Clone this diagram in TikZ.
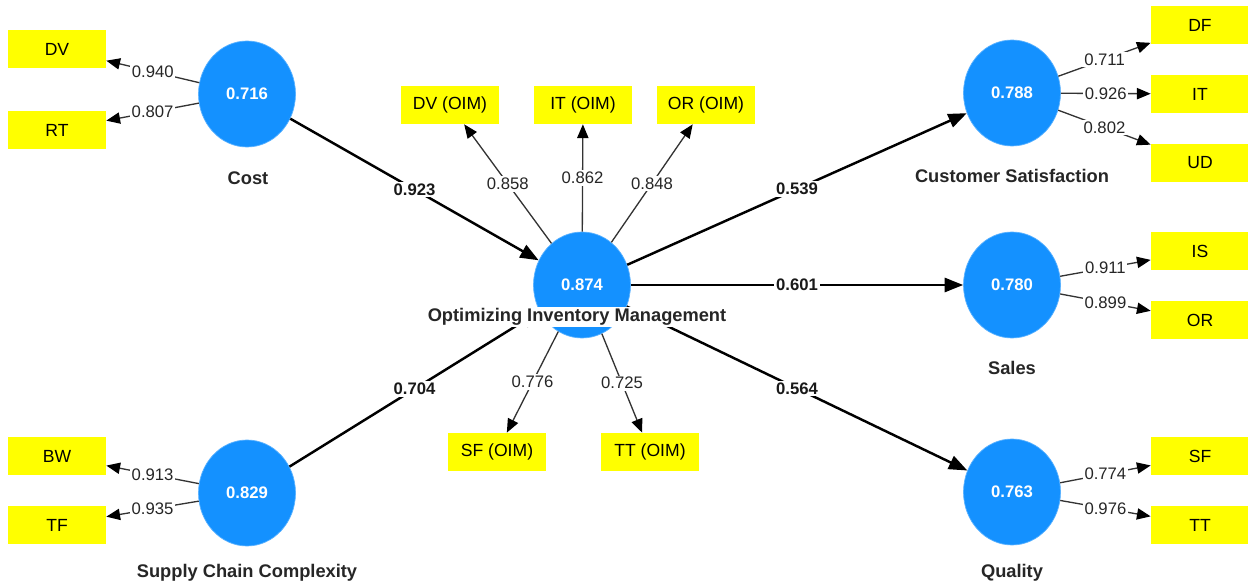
\documentclass[tikz,border=0pt]{standalone}
\usepackage{fontspec}
\setmainfont{Liberation Sans}
\usetikzlibrary{shapes.geometric,arrows.meta}
\definecolor{lvblue}{RGB}{20,145,255}
\definecolor{mvyellow}{RGB}{255,255,0}
\tikzset{
  lv/.style={ellipse, fill=lvblue, draw=lvblue!70!white, line width=0.4pt, minimum width=1.94cm, minimum height=2.12cm, inner sep=0pt, text=white, font=\fontsize{9.5}{11}\selectfont\bfseries},
  mv/.style={rectangle, fill=mvyellow, minimum width=1.96cm, minimum height=0.76cm, inner sep=0pt, font=\fontsize{10}{12}\selectfont},
  lvname/.style={font=\fontsize{10.4}{12}\selectfont\bfseries, text=black!85, inner sep=1pt},
  ld/.style={draw=black!80, line width=0.75pt, -{Triangle[length=7.8pt,width=6.4pt,color=black]}},
  sp/.style={draw=black, line width=1.4pt, -{Triangle[length=10.5pt,width=8pt]}},
  ldlab/.style={fill=white, inner sep=1pt, text=black!85, font=\fontsize{9.5}{11}\selectfont},
  splab/.style={fill=white, inner sep=1pt, text=black!90, font=\fontsize{9.5}{11}\selectfont\bfseries}
}
\begin{document}
\begin{tikzpicture}[x=0.02cm, y=-0.02cm]
\useasboundingbox (0,0) rectangle (1248,587);
\fill[white] (0,0) rectangle (1248,587);
% latent variables
\node[lv] (cost) at (247,94) {0.716};
\node[lv] (oim) at (582,285) {0.874};
\node[lv] (scc) at (247,493) {0.829};
\node[lv] (cs) at (1012,93) {0.788};
\node[lv] (sales) at (1012,285) {0.780};
\node[lv] (qual) at (1012,492) {0.763};
% indicators
\node[mv] (dv) at (57,49) {DV};
\node[mv] (rt) at (57,130) {RT};
\node[mv] (bw) at (57,456) {BW};
\node[mv] (tf) at (57,525) {TF};
\node[mv] (dvo) at (450,105) {DV (OIM)};
\node[mv] (ito) at (583,105) {IT (OIM)};
\node[mv] (oro) at (706,105) {OR (OIM)};
\node[mv] (sfo) at (497,452) {SF (OIM)};
\node[mv] (tto) at (650,452) {TT (OIM)};
\node[mv] (df) at (1200,25) {DF};
\node[mv] (it) at (1200,94) {IT};
\node[mv] (ud) at (1200,163) {UD};
\node[mv] (is) at (1200,251) {IS};
\node[mv] (or) at (1200,320) {OR};
\node[mv] (sf) at (1200,456) {SF};
\node[mv] (tt) at (1200,525) {TT};
% outer loadings
\draw[ld] (cost) -- node[ldlab] {0.940} (dv);
\draw[ld] (cost) -- node[ldlab] {0.807} (rt);
\draw[ld] (scc) -- node[ldlab] {0.913} (bw);
\draw[ld] (scc) -- node[ldlab] {0.935} (tf);
\draw[ld] (oim) -- node[ldlab] {0.858} (dvo);
\draw[ld] (oim) -- node[ldlab] {0.862} (ito);
\draw[ld] (oim) -- node[ldlab] {0.848} (oro);
\draw[ld] (oim) -- node[ldlab] {0.776} (sfo);
\draw[ld] (oim) -- node[ldlab] {0.725} (tto);
\draw[ld] (cs) -- node[ldlab] {0.711} (df);
\draw[ld] (cs) -- node[ldlab] {0.926} (it);
\draw[ld] (cs) -- node[ldlab] {0.802} (ud);
\draw[ld] (sales) -- node[ldlab] {0.911} (is);
\draw[ld] (sales) -- node[ldlab] {0.899} (or);
\draw[ld] (qual) -- node[ldlab] {0.774} (sf);
\draw[ld] (qual) -- node[ldlab] {0.976} (tt);
% structural paths
\draw[sp] (cost) -- node[splab] {0.923} (oim);
\draw[sp] (scc) -- node[splab] {0.704} (oim);
\draw[sp] (oim) -- node[splab] {0.539} (cs);
\draw[sp] (oim) -- node[splab] {0.601} (sales);
\draw[sp] (oim) -- node[splab] {0.564} (qual);
% names
\node[lvname] (costname) at (248,178) {Cost};
\node[lvname, fill=white] (oimname) at (577,317) {Optimizing Inventory Management};
\node[lvname] (sccname) at (247,573) {Supply Chain Complexity};
\node[lvname] (csname) at (1012,176) {Customer Satisfaction};
\node[lvname] (salesname) at (1012,368) {Sales};
\node[lvname] (qualname) at (1012,573) {Quality};
\end{tikzpicture}
\end{document}
